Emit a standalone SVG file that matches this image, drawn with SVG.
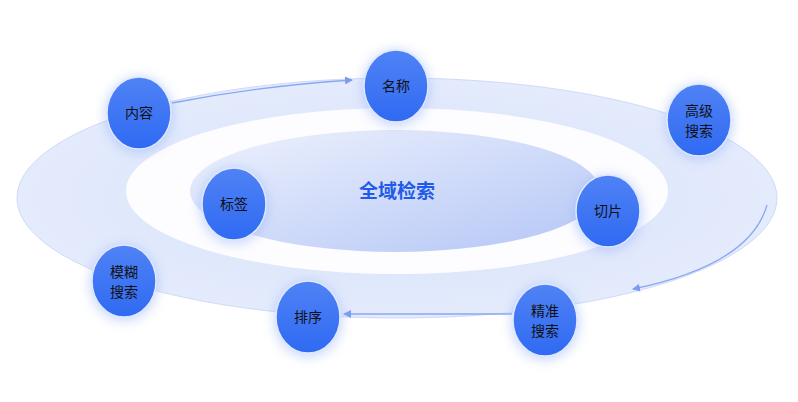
<svg xmlns="http://www.w3.org/2000/svg" width="798" height="402" viewBox="0 0 798 402">
<defs>
<radialGradient id="outer" cx="0.5" cy="0.5" r="0.5">
<stop offset="0" stop-color="#d6e0fb"/><stop offset="1" stop-color="#e4ebfc"/>
</radialGradient>
<linearGradient id="inner" x1="0" y1="0" x2="1" y2="1">
<stop offset="0" stop-color="#eef2fd"/><stop offset="1" stop-color="#b4c6f6"/>
</linearGradient>
<linearGradient id="node" x1="0" y1="0" x2="0" y2="1">
<stop offset="0" stop-color="#4f82f5"/><stop offset="1" stop-color="#2f6af2"/>
</linearGradient>
<filter id="glow" x="-50%" y="-50%" width="200%" height="200%">
<feGaussianBlur stdDeviation="6"/>
</filter>
<marker id="ah" markerWidth="8" markerHeight="8" refX="7" refY="4" orient="auto" markerUnits="userSpaceOnUse">
<path d="M0,0 L8,4 L0,8 Z" fill="#7b9cf0"/>
</marker>
<style>
.n{fill:url(#node);stroke:#dfe8ff;stroke-width:1.5}
.g{fill:#9ab5f7;opacity:0.55;filter:url(#glow)}
.t{font-family:"Noto Sans CJK SC",sans-serif;font-size:14px;fill:#111;text-anchor:middle}
.c{fill:none;stroke:#8aa7f2;stroke-width:1.3;marker-end:url(#ah)}
</style>
</defs>
<rect width="798" height="402" fill="#fff"/>
<ellipse cx="397" cy="198" rx="380" ry="120" fill="url(#outer)" stroke="#cfdaf8"/>
<ellipse cx="397" cy="191" rx="271" ry="83" fill="#fdfdff"/>
<ellipse cx="395" cy="191" rx="205" ry="61" fill="url(#inner)"/>
<text x="397" y="198" font-family="'Noto Sans CJK SC',sans-serif" font-size="19" font-weight="bold" fill="#1f5ae8" text-anchor="middle">全域检索</text>
<g id="connectors">
<path class="c" d="M172,103 Q260,86 352,80"/>
<path class="c" d="M767,205 Q750,265 633,289"/>
<path class="c" d="M512,314 L344,314"/>
</g>
<g id="n-neirong"><ellipse class="g" cx="139" cy="115" rx="34" ry="38"/><ellipse class="n" cx="139" cy="113" rx="32" ry="36"/><text class="t" x="139" y="118">内容</text></g>
<g id="n-mingcheng"><ellipse class="g" cx="396" cy="88" rx="34" ry="38"/><ellipse class="n" cx="396" cy="86" rx="32" ry="36"/><text class="t" x="396" y="91">名称</text></g>
<g id="n-gaoji"><ellipse class="g" cx="699" cy="122" rx="34" ry="38"/><ellipse class="n" cx="699" cy="120" rx="32" ry="36"/><text class="t" x="699" y="116">高级</text><text class="t" x="699" y="136">搜索</text></g>
<g id="n-biaoqian"><ellipse class="g" cx="234" cy="206" rx="34" ry="38"/><ellipse class="n" cx="234" cy="204" rx="32" ry="36"/><text class="t" x="234" y="209">标签</text></g>
<g id="n-qiepian"><ellipse class="g" cx="608" cy="213" rx="34" ry="38"/><ellipse class="n" cx="608" cy="211" rx="32" ry="36"/><text class="t" x="608" y="216">切片</text></g>
<g id="n-mohu"><ellipse class="g" cx="124" cy="283" rx="34" ry="38"/><ellipse class="n" cx="124" cy="281" rx="32" ry="36"/><text class="t" x="124" y="277">模糊</text><text class="t" x="124" y="297">搜索</text></g>
<g id="n-paixu"><ellipse class="g" cx="308" cy="319" rx="34" ry="38"/><ellipse class="n" cx="308" cy="317" rx="32" ry="36"/><text class="t" x="308" y="322">排序</text></g>
<g id="n-jingzhun"><ellipse class="g" cx="545" cy="322" rx="34" ry="38"/><ellipse class="n" cx="545" cy="320" rx="32" ry="36"/><text class="t" x="545" y="316">精准</text><text class="t" x="545" y="336">搜索</text></g>
</svg>
